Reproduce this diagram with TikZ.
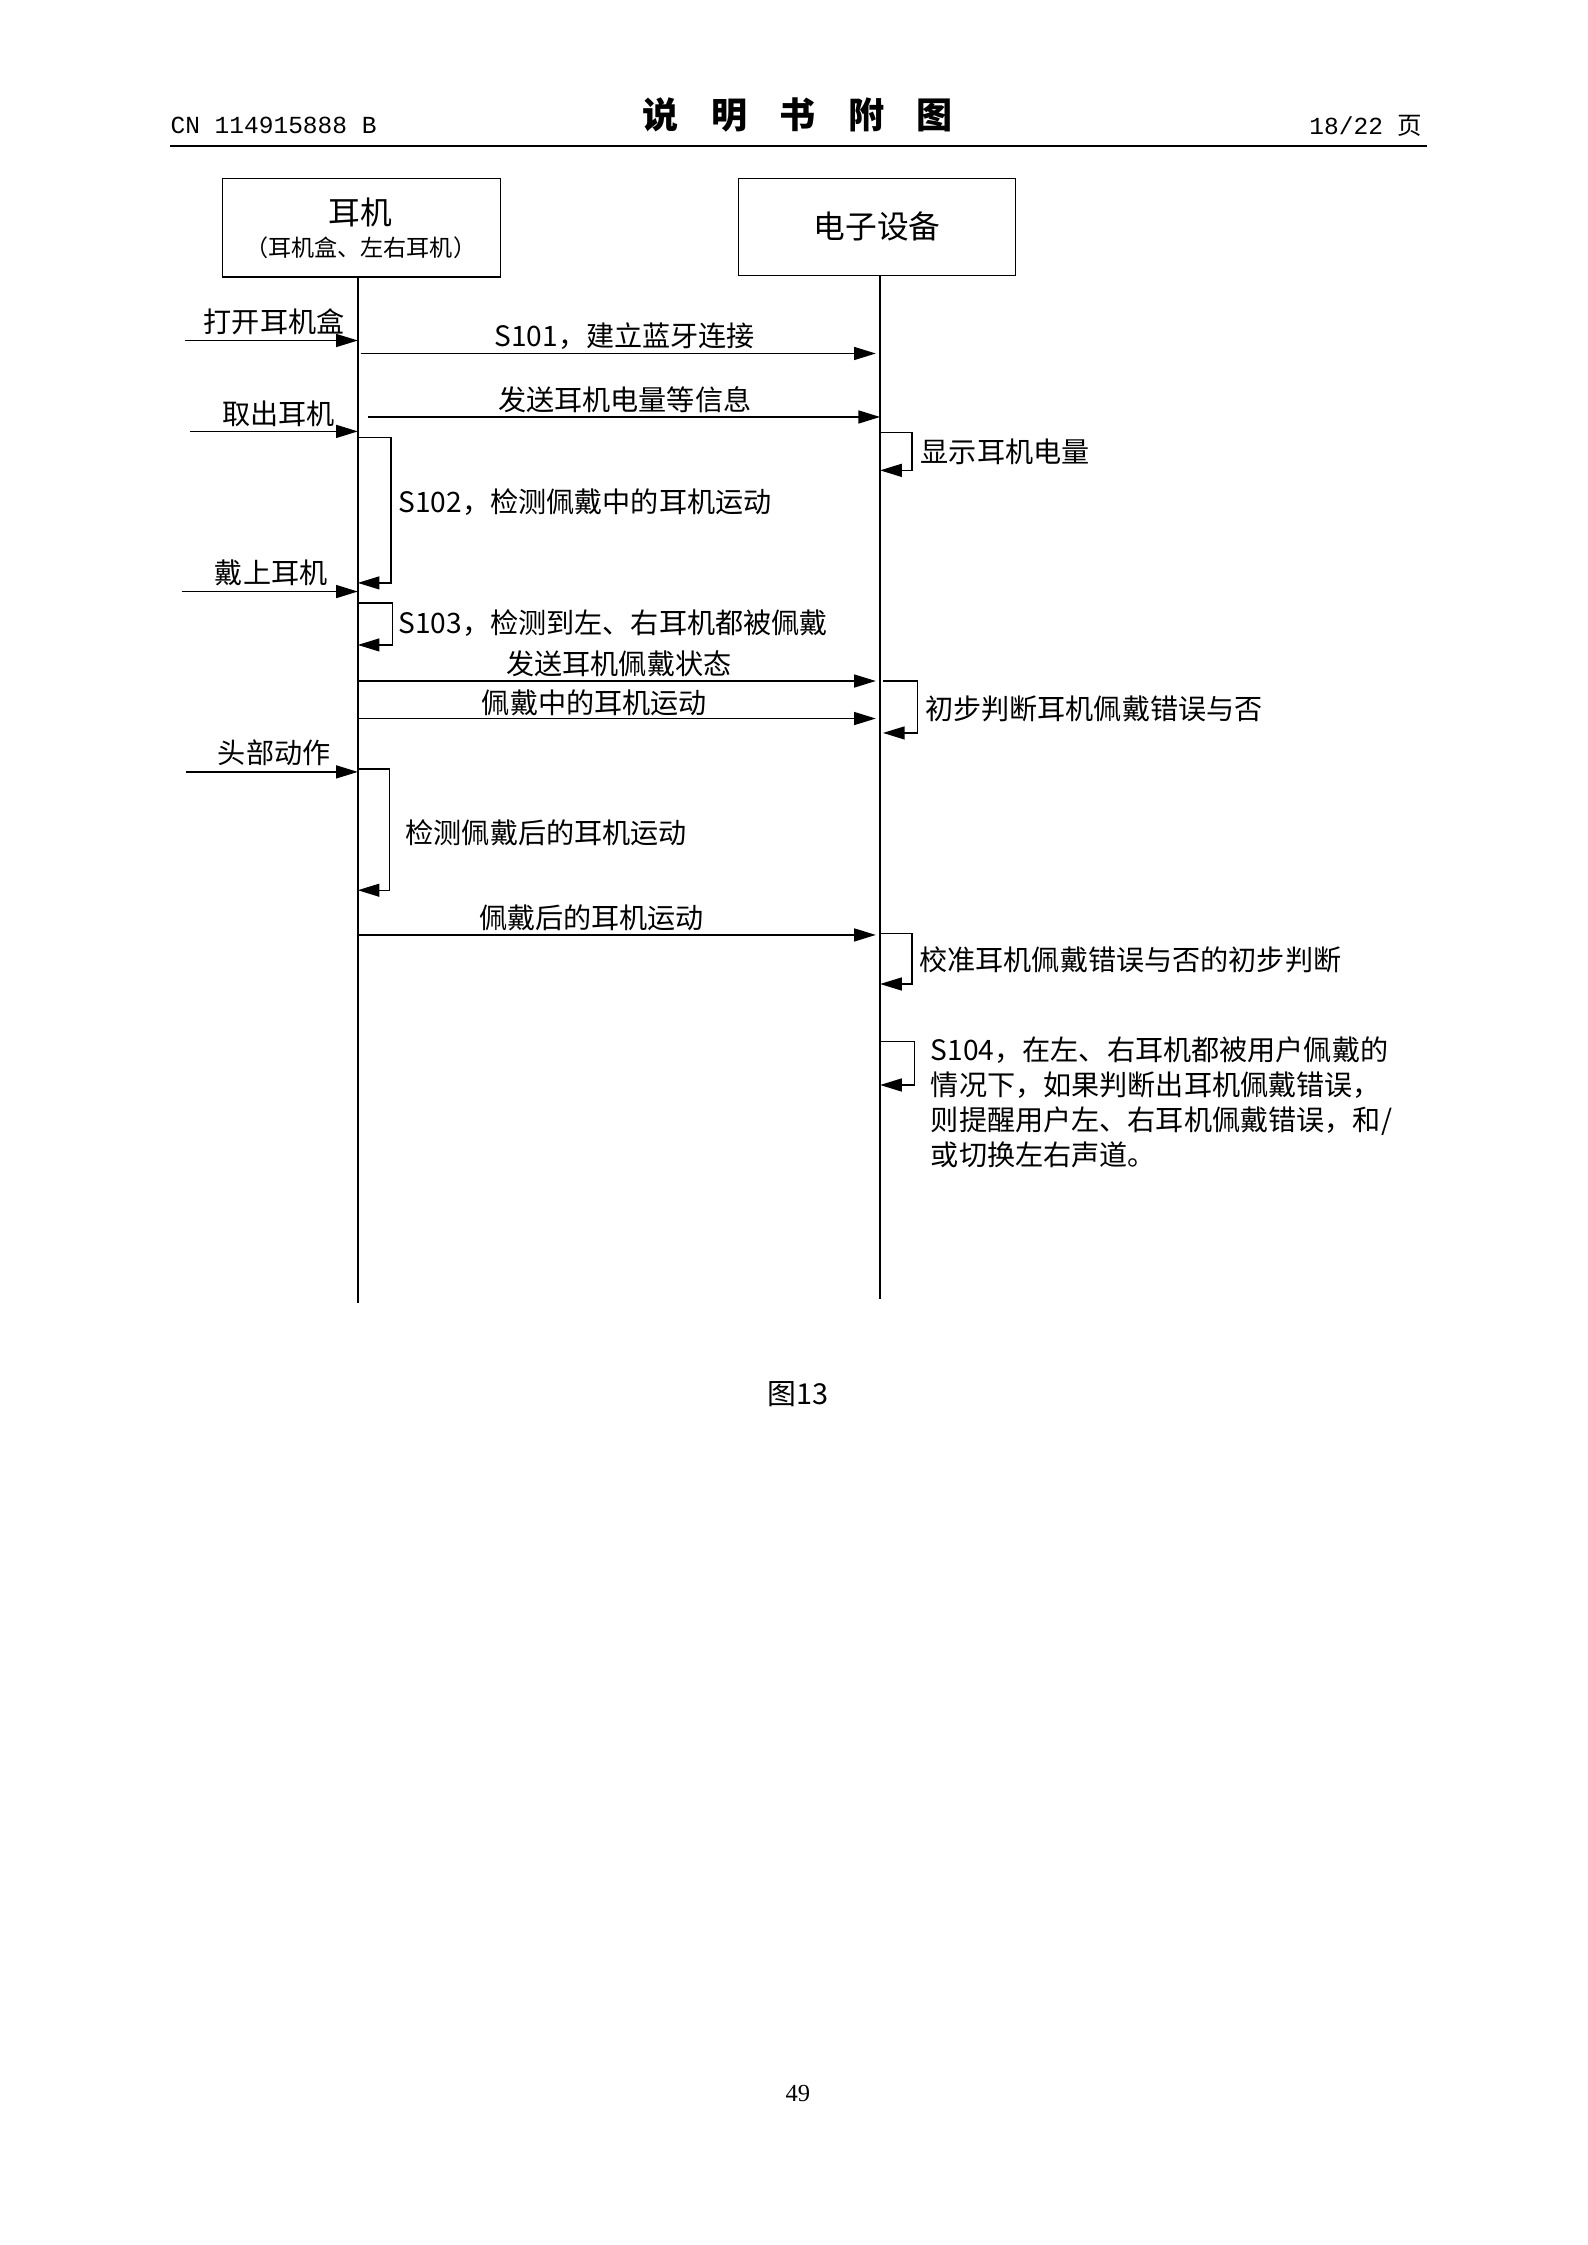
\documentclass[tikz,border=0pt]{standalone}
\usepackage{fontspec}
\setmainfont{Liberation Serif}
\setmonofont{Liberation Mono}
\newfontfamily\cjk{Noto Sans CJK SC}
\usetikzlibrary{arrows.meta}
\begin{document}
\begin{tikzpicture}[x=1pt,y=-1pt,
  lbl/.style={font=\cjk\fontsize{19.5}{22}\selectfont,inner sep=0pt},
  msg/.style={-{Triangle[length=15,width=9]},line width=0.9pt},
  ll/.style={line width=1.1pt}]
\useasboundingbox[fill=white] (0,0) rectangle (1100,1556);
% header
\node[anchor=west,font=\ttfamily\fontsize{17}{20}\selectfont,inner sep=0pt] (hl) at (118,87) {CN 114915888 B};
\node[font=\cjk\bfseries\fontsize{25}{28}\selectfont,inner sep=0pt] (ht) at (553,80) {说\hspace{0.9em}明\hspace{0.9em}书\hspace{0.9em}附\hspace{0.9em}图};
\node[anchor=east,font=\ttfamily\fontsize{17}{20}\selectfont,inner sep=0pt] (hr) at (986,87) {18/22 {\cjk 页}};
\draw[line width=1.5pt] (118,101) -- (989,101);
% boxes
\node[draw,line width=0.8pt,minimum width=193,minimum height=68,inner sep=0pt] (A) at (250.5,158) {};
\node[lbl,font=\cjk\fontsize{22}{24}\selectfont] (At) at (250,147) {耳机};
\node[lbl,font=\cjk\fontsize{16}{18}\selectfont] (As) at (250,172) {（耳机盒、左右耳机）};
\node[draw,line width=0.8pt,minimum width=192,minimum height=67,inner sep=0pt] (B) at (608,157.5) {};
\node[lbl,font=\cjk\fontsize{22}{24}\selectfont] (Bt) at (608,157) {电子设备};
% lifelines
\draw[ll] (248,192) -- (248,903);
\draw[ll] (610,191) -- (610,900);
% messages
\draw[msg] (128,236) -- (248,236); \node[lbl] (m1) at (190,223) {打开耳机盒};
\draw[msg] (250,245) -- (607,245); \node[lbl] (m2) at (433,233) {S101，建立蓝牙连接};
\draw[msg] (255,289) -- (610,289); \node[lbl] (m3) at (433,277) {发送耳机电量等信息};
\draw[msg] (132,299) -- (248,299); \node[lbl] (m4) at (193,287) {取出耳机};
\draw[msg] (610,300) -- (632,300) -- (632,326) -- (610,326); \node[lbl,anchor=west] (m5) at (638,313) {显示耳机电量};
\draw[msg] (248,303) -- (271,303) -- (271,404) -- (248,404); \node[lbl,anchor=west] (m6) at (276,348) {S102，检测佩戴中的耳机运动};
\draw[msg] (126,410) -- (248,410); \node[lbl] (m7) at (188,397) {戴上耳机};
\draw[msg] (248,418) -- (272,418) -- (272,447) -- (248,447); \node[lbl,anchor=west] (m8) at (276,432) {S103，检测到左、右耳机都被佩戴};
\draw[msg] (248,472) -- (607,472); \node[lbl] (m9) at (429,460) {发送耳机佩戴状态};
\draw[msg] (248,498) -- (607,498); \node[lbl] (m10) at (412,487) {佩戴中的耳机运动};
\draw[msg] (612,472) -- (636,472) -- (636,508) -- (612,508); \node[lbl,anchor=west] (m11) at (641,491) {初步判断耳机佩戴错误与否};
\draw[msg] (129,535) -- (248,535); \node[lbl] (m12) at (190,522) {头部动作};
\draw[msg] (248,533) -- (270,533) -- (270,617) -- (248,617); \node[lbl,anchor=west] (m13) at (281,577) {检测佩戴后的耳机运动};
\draw[msg] (248,648) -- (607,648); \node[lbl] (m14) at (410,636) {佩戴后的耳机运动};
\draw[msg] (610,647) -- (632,647) -- (632,682) -- (610,682); \node[lbl,anchor=west] (m15) at (637,665) {校准耳机佩戴错误与否的初步判断};
\draw[msg] (610,722) -- (634,722) -- (634,752) -- (610,752);
\node[lbl,anchor=north west,align=left,font=\cjk\fontsize{19.5}{24.4}\selectfont] (m16) at (645,718) {S104，在左、右耳机都被用户佩戴的\\情况下，如果判断出耳机佩戴错误，\\则提醒用户左、右耳机佩戴错误，和/\\或切换左右声道。};
\node[lbl,font=\cjk\fontsize{20}{22}\selectfont] (fig) at (553,966) {图13};
\node[font=\fontsize{17}{18}\selectfont,inner sep=0pt] (pg) at (553,1451) {49};
\end{tikzpicture}
\end{document}
